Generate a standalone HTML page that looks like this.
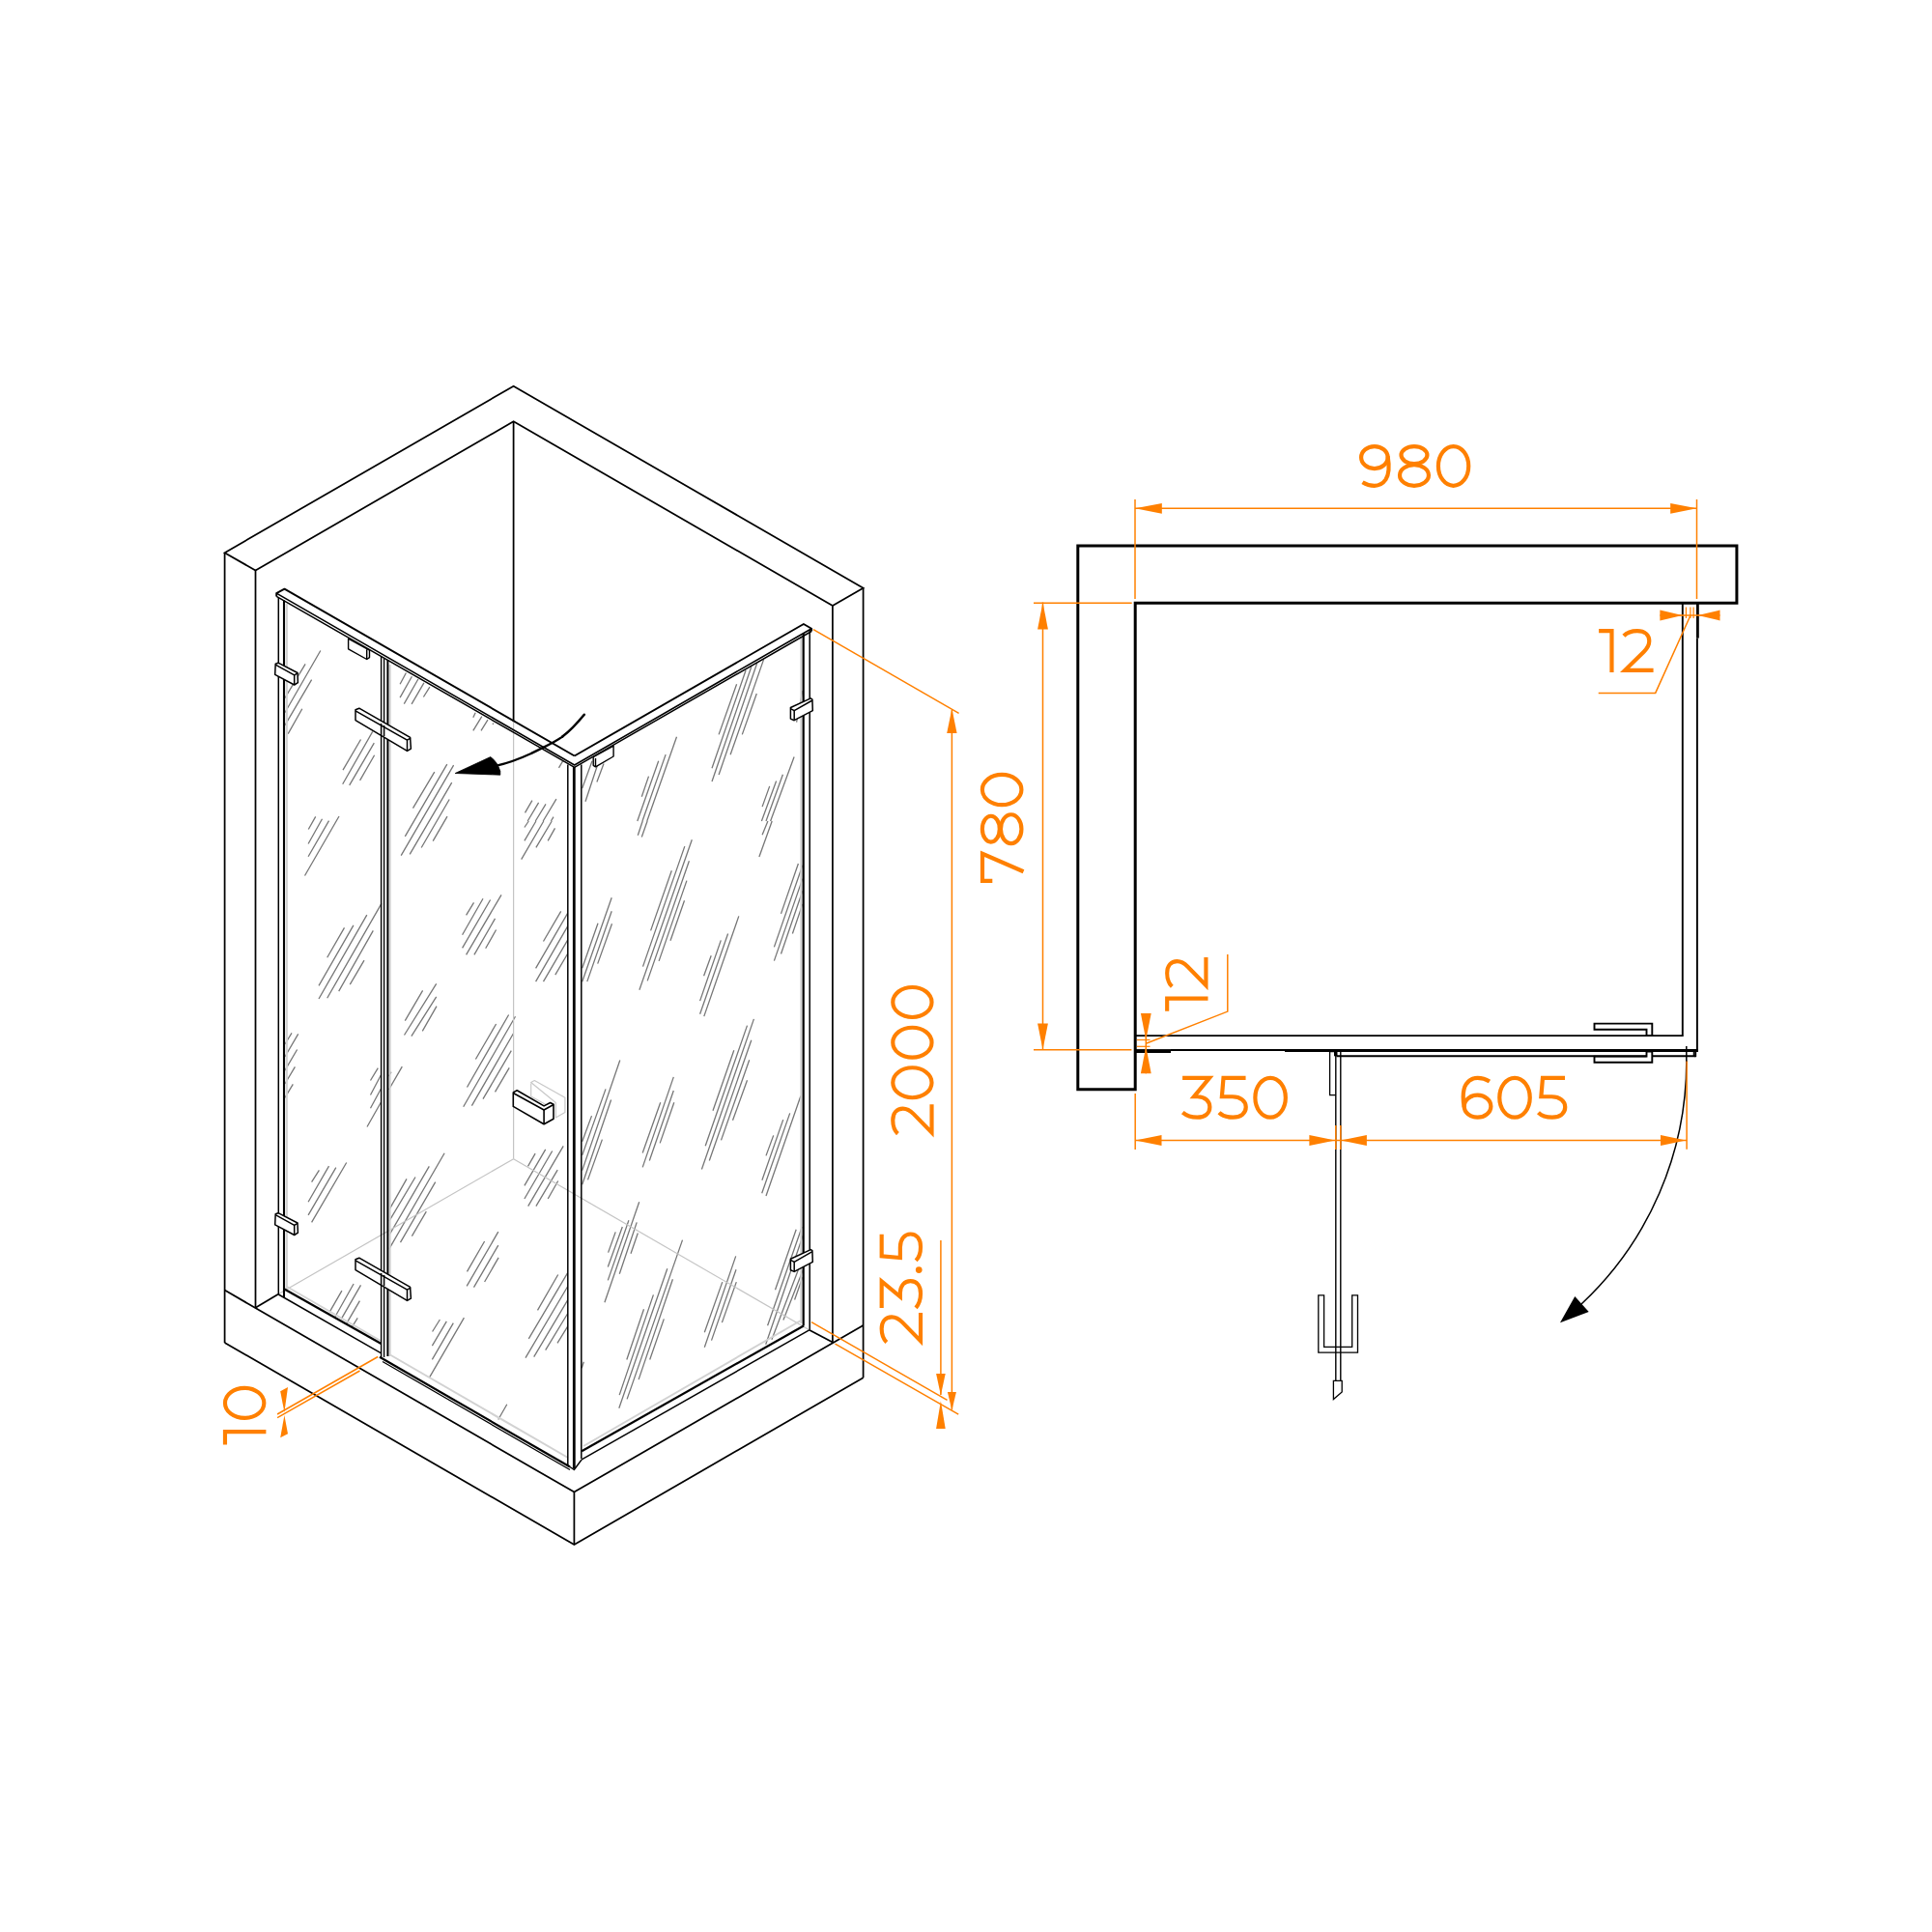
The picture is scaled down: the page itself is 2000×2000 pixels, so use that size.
<!DOCTYPE html>
<html><head><meta charset="utf-8"><style>html,body{margin:0;padding:0;background:#fff;width:2000px;height:2000px;overflow:hidden}svg{display:block}</style></head>
<body><svg xmlns="http://www.w3.org/2000/svg" width="2000" height="2000" viewBox="0 0 2000 2000">
<rect width="2000" height="2000" fill="#fff"/>
<path d="M316.1,687.3L294.9,722.6 M331.8,673.5L294.9,737.8 M322.6,703.6L294.9,750.9 M312.8,733.7L298.2,759.6 M373.5,765.5L355.0,797.1 M385.7,757.4L354.7,811.7 M387.3,769.1L361.7,812.8 M387.6,781.8L372.6,807.9 M420.4,696.5L414.1,708.3 M426.4,700.3L414.1,722.1 M432.9,703.0L418.3,728.6 M438.9,706.8L426.1,728.9 M444.9,711.2L438.4,721.5 M449.8,799.2L427.5,836.7 M462.8,791.1L419.3,865.9 M469.6,792.2L415.2,885.7 M467.7,810.1L424.2,884.3 M465.2,827.5L436.2,877.5 M326.7,845.4L319.3,858.5 M333.5,847.8L319.1,873.5 M340.5,849.6L319.1,886.7 M351.0,845.0L315.5,906.5 M356.5,960.4L338.7,991.3 M365.9,957.9L330.0,1020.4 M379.8,947.1L330.0,1034.0 M394.9,935.4L338.7,1033.3 M386.3,963.4L350.7,1026.1 M377.0,994.1L362.3,1019.1 M463.0,845.2L448.2,870.7 M490.5,934.3L482.6,947.4 M500.0,930.2L478.6,967.7 M478.6,981.3L507.6,931.5 M482.6,988.4L519.0,926.3 M490.9,988.4L512.5,950.9 M437.6,1025.3L419.3,1056.7 M451.7,1018.3L418.5,1071.5 M451.7,1031.8L425.9,1072.6 M452.0,1041.6L437.3,1067.4 M302.0,1069.3L294.9,1081.0 M308.7,1070.4L294.9,1094.0 M307.6,1086.5L294.9,1108.2 M305.4,1104.3L294.9,1122.0 M303.3,1122.3L294.9,1136.4 M391.3,1105.7L383.5,1118.5 M394.3,1113.0L383.5,1133.5 M394.3,1127.2L383.5,1147.3 M394.3,1141.3L380.0,1166.5 M405.0,1109.6L402.5,1114.1 M416.3,1104.1L402.5,1128.0 M492.4,1096.5L513.6,1060.0 M483.5,1125.5L526.6,1050.5 M479.7,1145.7L533.5,1052.2 M488.4,1144.6L531.5,1069.8 M330.4,1211.4L322.6,1223.7 M340.5,1207.1L319.1,1244.3 M347.8,1208.7L319.1,1257.8 M358.7,1203.5L322.6,1265.4 M421.0,1220.4L403.6,1251.1 M430.0,1218.5L403.0,1263.8 M444.3,1207.4L403.0,1278.5 M460.1,1193.7L403.0,1292.6 M450.7,1223.7L414.5,1286.1 M441.3,1254.1L426.4,1279.6 M353.9,1336.1L341.1,1358.4 M366.1,1329.0L347.1,1362.7 M373.5,1330.4L353.3,1365.4 M372.4,1346.7L359.0,1369.6 M370.2,1364.3L364.8,1373.0 M455.4,1366.0L447.6,1378.5 M462.3,1367.8L447.4,1393.2 M469.3,1369.6L447.4,1407.3 M480.4,1364.1L444.3,1426.3 M582.6,787.8L578.5,794.9 M550.9,828.6L543.5,841.3 M557.6,830.8L546.2,850.0 M565.0,832.4L554.3,850.0 M575.9,827.2L562.2,850.0 M573.0,845.7L570.4,850.0 M613.0,787.8L602.7,816.1 M619.0,790.5L606.0,829.7 M625.0,790.5L617.9,809.6 M671.5,803.6L664.3,824.8 M681.7,787.8L659.8,850.0 M689.1,781.1L665.0,850.0 M700.5,762.8L669.8,850.0 M547.3,850.0L542.9,856.5 M554.9,850.0L542.9,870.4 M562.8,850.0L539.7,889.7 M571.2,850.0L554.9,877.4 M574.5,857.4L567.2,870.4 M513.6,962.5L502.7,981.7 M580.7,943.3L562.5,974.5 M587.5,945.7L554.6,1002.4 M587.5,959.2L554.6,1016.1 M587.5,973.4L562.5,1016.1 M587.5,987.5L574.8,1009.2 M665.2,850.0L660.3,864.7 M670.1,850.0L664.3,866.5 M633.2,929.3L602.7,1016.3 M633.2,943.3L607.8,1016.1 M633.5,956.3L618.7,997.6 M619.0,955.7L602.7,1002.2 M500.0,850.0L500.0,850.0 M529.3,1087.7L500.0,1137.7 M527.2,1105.4L512.5,1130.4 M554.1,1194.2L546.5,1207.3 M564.7,1189.9L542.9,1227.4 M571.7,1191.5L542.9,1241.0 M583.2,1186.3L546.7,1248.6 M577.2,1211.1L554.9,1248.6 M577.7,1222.5L567.2,1241.0 M641.8,1097.5L602.7,1211.6 M627.0,1127.4L602.7,1195.9 M612.5,1155.1L602.7,1181.7 M632.6,1138.5L602.7,1226.3 M623.4,1179.6L608.5,1221.4 M697.3,1114.9L665.2,1208.4 M683.7,1141.3L665.2,1193.5 M697.3,1129.0L672.3,1201.5 M697.8,1141.3L683.2,1183.4 M661.7,1244.2L625.9,1348.3 M650.9,1263.3L629.3,1325.4 M659.2,1265.4L641.3,1318.7 M577.7,1319.5L556.5,1356.4 M587.5,1317.8L547.3,1385.8 M587.5,1332.0L544.0,1405.7 M587.5,1346.1L552.7,1404.6 M587.5,1360.0L564.7,1397.7 M587.5,1373.3L577.0,1390.4 M524.8,1453.7L515.8,1469.5 M604.3,1409.7L602.2,1416.2 M637.2,1275.4L629.6,1296.6 M644.3,1270.0L629.3,1311.5 M660.3,1276.5L653.0,1297.7 M500.0,1270.0L500.0,1270.0 M762.6,708.3L744.1,760.4 M772.1,693.8L737.0,795.2 M777.8,690.2L737.0,809.0 M783.7,686.5L744.1,802.0 M790.5,682.9L756.1,781.3 M783.3,718.0L768.3,760.4 M822.1,783.5L797.6,850.0 M810.4,801.7L793.0,850.0 M803.6,808.5L788.4,850.0 M796.7,813.9L789.1,835.1 M830.8,715.0L824.6,747.6 M794.9,850.0L789.1,864.3 M799.2,850.0L785.9,887.0 M764.8,948.4L728.8,1052.1 M753.6,966.5L724.6,1049.8 M746.3,973.4L724.6,1036.1 M736.2,989.3L728.6,1010.3 M826.4,894.0L808.5,945.9 M830.8,895.7L801.4,980.4 M830.8,909.6L801.4,994.6 M830.8,922.3L808.5,987.5 M830.8,935.9L820.4,966.5 M780.4,1054.9L726.4,1210.5 M773.5,1061.6L730.2,1186.3 M777.8,1076.8L734.3,1201.5 M775.7,1097.2L746.5,1180.4 M773.5,1118.2L758.5,1159.8 M759.8,1087.2L738.0,1149.7 M828.9,1134.5L793.0,1238.0 M817.7,1152.4L788.7,1235.2 M810.7,1159.1L788.9,1221.7 M800.7,1175.4L793.0,1196.4 M761.7,1300.4L729.3,1394.8 M762.0,1314.3L736.5,1387.6 M762.3,1327.1L747.4,1369.1 M747.8,1327.1L729.3,1379.2 M824.2,1272.7L802.5,1335.2 M830.2,1270.0L794.6,1372.2 M831.3,1278.7L792.7,1391.7 M831.3,1301.5L798.9,1386.8 M831.3,1314.6L810.9,1366.5 M830.8,1322.2L822.6,1345.5 M501.6,1285.0L483.5,1316.3 M515.8,1275.2L483.2,1331.4 M515.8,1289.2L490.5,1332.6 M516.1,1301.9L501.6,1327.0 M706.5,1283.6L649.1,1448.4 M690.8,1313.3L640.8,1457.8 M676.4,1340.4L641.2,1444.1 M696.4,1324.3L661.1,1428.1 M666.5,1355.3L648.8,1407.5 M687.3,1365.4L672.7,1407.5 M492.2,737.8L489.8,742.8 M498.8,741.6L489.8,756.4 M505.0,745.1L498.0,756.4 M510.8,748.6L510.0,749.8 M695.3,901.2L673.6,963.4 M708.8,876.1L665.5,1000.6 M716.3,869.2L661.9,1024.7 M713.4,891.2L670.2,1015.4 M710.9,911.6L682.1,994.9 M708.5,932.3L694.0,973.7" stroke="#777" stroke-width="1.3" fill="none" stroke-linecap="butt"/>
<line x1="531.6" y1="747.0" x2="531.6" y2="1199.7" stroke="#c4c4c4" stroke-width="1.2" />
<line x1="531.6" y1="1199.7" x2="288.0" y2="1339.8" stroke="#c4c4c4" stroke-width="1.2" />
<line x1="531.6" y1="1199.7" x2="837.7" y2="1376.8" stroke="#c4c4c4" stroke-width="1.2" />
<path d="M232.6,572.2 L531.6,399.7 L893.6,608.7 L861.9,627.0 L531.6,436.3 L264.5,590.5 Z" fill="none" stroke="#000" stroke-width="1.75" stroke-linejoin="miter" />
<line x1="232.6" y1="572.2" x2="232.6" y2="1390.0" stroke="#000" stroke-width="1.75" />
<line x1="264.5" y1="590.5" x2="264.5" y2="1353.8" stroke="#000" stroke-width="1.75" />
<line x1="893.6" y1="608.7" x2="893.6" y2="1426.3" stroke="#000" stroke-width="1.75" />
<line x1="861.9" y1="627.0" x2="861.9" y2="1389.6" stroke="#000" stroke-width="1.75" />
<line x1="531.6" y1="436.3" x2="531.6" y2="747.0" stroke="#000" stroke-width="1.75" />
<path d="M232.6,1390.0 L594.4,1599.0 L893.6,1426.3" fill="none" stroke="#000" stroke-width="1.75" stroke-linejoin="miter" />
<path d="M232.6,1335.6 L594.4,1544.6 L893.6,1372.0" fill="none" stroke="#000" stroke-width="1.75" stroke-linejoin="miter" />
<line x1="594.4" y1="1544.6" x2="594.4" y2="1599.0" stroke="#000" stroke-width="1.75" />
<line x1="264.5" y1="1353.8" x2="288.0" y2="1339.8" stroke="#000" stroke-width="1.75" />
<line x1="861.9" y1="1389.6" x2="837.7" y2="1376.8" stroke="#000" stroke-width="1.75" />
<line x1="296.8" y1="625.0" x2="296.8" y2="1334.0" stroke="#d2d2d2" stroke-width="2.2"/>
<line x1="403.6" y1="688.0" x2="403.6" y2="1404.0" stroke="#d2d2d2" stroke-width="2.2"/>
<line x1="829.4" y1="660.0" x2="829.4" y2="1370.0" stroke="#d2d2d2" stroke-width="2.2"/>
<line x1="297.0" y1="1332.0" x2="394.0" y2="1388.0" stroke="#d2d2d2" stroke-width="2.0"/>
<line x1="403.0" y1="1402.0" x2="588.0" y2="1509.0" stroke="#d2d2d2" stroke-width="2.0"/>
<line x1="604.0" y1="1497.0" x2="829.0" y2="1367.0" stroke="#d2d2d2" stroke-width="2.0"/>
<line x1="288.3" y1="618.6" x2="288.3" y2="1340.0" stroke="#000" stroke-width="1.5"/>
<line x1="294.0" y1="621.5" x2="294.0" y2="1343.1" stroke="#000" stroke-width="2.1"/>
<line x1="394.6" y1="680.0" x2="394.6" y2="1405.0" stroke="#000" stroke-width="1.4"/>
<line x1="397.6" y1="681.0" x2="397.6" y2="1405.0" stroke="#000" stroke-width="1.4"/>
<line x1="401.4" y1="683.0" x2="401.4" y2="1404.0" stroke="#000" stroke-width="2.0"/>
<line x1="587.8" y1="791.5" x2="587.8" y2="1517.0" stroke="#000" stroke-width="1.5"/>
<line x1="594.3" y1="794.0" x2="594.3" y2="1520.0" stroke="#000" stroke-width="2.8"/>
<line x1="601.8" y1="791.5" x2="601.8" y2="1510.0" stroke="#000" stroke-width="1.5"/>
<line x1="831.7" y1="656.0" x2="831.7" y2="1372.5" stroke="#000" stroke-width="2.2"/>
<line x1="838.2" y1="652.0" x2="838.2" y2="1376.8" stroke="#000" stroke-width="1.5"/>
<path d="M594.7,782.5 L294.5,609.6 L286.2,614.1 L286.2,617.4" fill="none" stroke="#000" stroke-width="1.9" stroke-linejoin="round"/>
<path d="M594.7,782.5 L831.9,646.0 L840.1,650.7 L840.1,653.5" fill="none" stroke="#000" stroke-width="1.9" stroke-linejoin="round"/>
<path d="M286.2,614.1 L594.7,792.0 L840.1,650.7" fill="none" stroke="#000" stroke-width="1.6" stroke-linejoin="round"/>
<path d="M286.2,617.4 L594.7,794.3 L840.1,653.5" fill="none" stroke="#000" stroke-width="1.5" stroke-linejoin="round"/>
<line x1="294.0" y1="1334.3" x2="394.6" y2="1391.0" stroke="#000" stroke-width="2.2"/>
<line x1="288.3" y1="1340.0" x2="394.6" y2="1400.8" stroke="#000" stroke-width="1.5"/>
<line x1="393.0" y1="1404.8" x2="590.0" y2="1518.5" stroke="#000" stroke-width="2.2"/>
<line x1="396.0" y1="1409.5" x2="590.0" y2="1521.5" stroke="#000" stroke-width="1.3"/>
<line x1="602.2" y1="1502.2" x2="831.9" y2="1372.5" stroke="#000" stroke-width="2.2"/>
<line x1="602.2" y1="1510.9" x2="837.7" y2="1376.8" stroke="#000" stroke-width="1.5"/>
<path d="M590.0,1518.5 L594.3,1521.5 L602.2,1510.9" fill="none" stroke="#000" stroke-width="1.5" stroke-linejoin="round"/>
<path d="M285.2,687.2 L288.0,686.2 L308.0,696.5 L308.4,706.7 L304.7,709.0 L284.7,698.3 Z" fill="#fff" stroke="#000" stroke-width="1.5" stroke-linejoin="round"/>
<path d="M285.2,688.2 L304.7,698.8 L308.0,696.8" fill="none" stroke="#000" stroke-width="1.5" stroke-linejoin="round"/>
<path d="M304.7,698.8 L304.7,709.0" fill="none" stroke="#000" stroke-width="1.5" stroke-linejoin="round"/>
<path d="M285.2,1256.7 L288.0,1255.7 L308.0,1266.0 L308.4,1276.2 L304.7,1278.5 L284.7,1267.8 Z" fill="#fff" stroke="#000" stroke-width="1.5" stroke-linejoin="round"/>
<path d="M285.2,1257.7 L304.7,1268.3 L308.0,1266.3" fill="none" stroke="#000" stroke-width="1.5" stroke-linejoin="round"/>
<path d="M304.7,1268.3 L304.7,1278.5" fill="none" stroke="#000" stroke-width="1.5" stroke-linejoin="round"/>
<path d="M368.0,734.7 L371.8,733.2 L424.6,763.4 L425.4,775.1 L421.5,777.4 L368.0,745.6 Z" fill="#fff" stroke="#000" stroke-width="1.5" stroke-linejoin="round"/>
<path d="M368.0,735.8 L421.5,766.2 L425.0,764.2" fill="none" stroke="#000" stroke-width="1.5" stroke-linejoin="round"/>
<path d="M421.5,766.2 L421.5,777.4" fill="none" stroke="#000" stroke-width="1.5" stroke-linejoin="round"/>
<path d="M394.6,749.0 L394.6,761.0" fill="none" stroke="#000" stroke-width="1.5" stroke-linejoin="round"/>
<path d="M397.6,751.0 L397.6,762.0" fill="none" stroke="#000" stroke-width="1.5" stroke-linejoin="round"/>
<path d="M368.0,1303.7 L371.8,1302.2 L424.6,1332.4 L425.4,1344.1 L421.5,1346.4 L368.0,1314.6 Z" fill="#fff" stroke="#000" stroke-width="1.5" stroke-linejoin="round"/>
<path d="M368.0,1304.8 L421.5,1335.2 L425.0,1333.2" fill="none" stroke="#000" stroke-width="1.5" stroke-linejoin="round"/>
<path d="M421.5,1335.2 L421.5,1346.4" fill="none" stroke="#000" stroke-width="1.5" stroke-linejoin="round"/>
<path d="M394.6,1318.0 L394.6,1330.0" fill="none" stroke="#000" stroke-width="1.5" stroke-linejoin="round"/>
<path d="M397.6,1320.0 L397.6,1331.0" fill="none" stroke="#000" stroke-width="1.5" stroke-linejoin="round"/>
<path d="M818.4,732.5 L839.3,722.9 L840.9,724.0 L841.3,735.6 L822.2,745.7 L818.4,744.1 Z" fill="#fff" stroke="#000" stroke-width="1.5" stroke-linejoin="round"/>
<path d="M818.4,733.6 L822.2,735.6 L840.9,725.0" fill="none" stroke="#000" stroke-width="1.5" stroke-linejoin="round"/>
<path d="M822.2,735.6 L822.2,745.7" fill="none" stroke="#000" stroke-width="1.5" stroke-linejoin="round"/>
<path d="M818.4,1303.2 L839.3,1293.6 L840.9,1294.7 L841.3,1306.3 L822.2,1316.4 L818.4,1314.8 Z" fill="#fff" stroke="#000" stroke-width="1.5" stroke-linejoin="round"/>
<path d="M818.4,1304.3 L822.2,1306.3 L840.9,1295.7" fill="none" stroke="#000" stroke-width="1.5" stroke-linejoin="round"/>
<path d="M822.2,1306.3 L822.2,1316.4" fill="none" stroke="#000" stroke-width="1.5" stroke-linejoin="round"/>
<path d="M360.6,661.1 L382.5,673.2 L382.5,680.6 L379.7,682.5 L360.6,671.8 Z" fill="#fff" stroke="#000" stroke-width="1.4" stroke-linejoin="round"/>
<path d="M379.7,672.2 L379.7,682.5" fill="none" stroke="#000" stroke-width="1.4" stroke-linejoin="round"/>
<path d="M614.2,783.7 L635.1,772.1 L635.1,783.0 L616.5,793.8 L614.2,792.3 Z" fill="#fff" stroke="#000" stroke-width="1.4" stroke-linejoin="round"/>
<path d="M616.5,785.0 L616.5,793.8" fill="none" stroke="#000" stroke-width="1.4" stroke-linejoin="round"/>
<path d="M549.7,1120.5 L553.3,1118.5 L584.9,1136.3 L584.9,1151.6 L575.3,1157.0 L575.3,1141.5 Z" fill="none" stroke="#c8c8c8" stroke-width="1.2" stroke-linejoin="round"/>
<path d="M549.7,1121.5 L549.7,1135.0 L566.0,1144.0" fill="none" stroke="#c8c8c8" stroke-width="1.2" stroke-linejoin="round"/>
<path d="M531.3,1130.9 L535.2,1128.8 L563.1,1144.9 L569.6,1141.5 L573.0,1143.3 L573.0,1158.3 L563.1,1163.8 L531.3,1145.4 Z" fill="#fff" stroke="#000" stroke-width="1.6" stroke-linejoin="round"/>
<path d="M531.3,1131.5 L563.1,1149.0 L573.0,1143.5" fill="none" stroke="#000" stroke-width="1.6" stroke-linejoin="round"/>
<path d="M563.1,1149.0 L563.1,1163.8" fill="none" stroke="#000" stroke-width="1.6" stroke-linejoin="round"/>
<path d="M604.8,739.7 C598,748 590,756.5 582.2,762.6" fill="none" stroke="#000" stroke-width="2.5" stroke-linecap="round"/>
<path d="M582.2,762.6 C572,770 562,773.5 550.4,779.7" fill="none" stroke="#000" stroke-width="2.3" stroke-linecap="round"/>
<path d="M550.4,779.7 C540,784.5 528,789.5 514,792.6" fill="none" stroke="#000" stroke-width="2.1" stroke-linecap="round"/>
<path d="M471.2,800.5 L507.7,783.6 Q514.5,788 517.8,798.3 L517.8,802.2 Z" fill="#000" stroke="#000" stroke-width="0.8" stroke-linejoin="round"/>
<line x1="842.0" y1="651.7" x2="992.6" y2="738.3" stroke="#ff8000" stroke-width="1.5" />
<line x1="985.4" y1="735.0" x2="985.4" y2="1459.5" stroke="#ff8000" stroke-width="1.5" />
<path d="M985.4,733.6 L990.6,759.0 L980.2,759.0 Z" fill="#ff8000" stroke="none"/>
<path d="M985.4,1460.0 L980.9,1441.0 L989.9,1441.0 Z" fill="#ff8000" stroke="none"/>
<line x1="840.0" y1="1368.7" x2="980.5" y2="1449.4" stroke="#ff8000" stroke-width="1.5" />
<line x1="864.5" y1="1391.2" x2="992.2" y2="1464.2" stroke="#ff8000" stroke-width="1.5" />
<line x1="973.9" y1="1284.0" x2="973.9" y2="1444.0" stroke="#ff8000" stroke-width="1.5" />
<path d="M973.9,1444.5 L969.1,1422.0 L978.7,1422.0 Z" fill="#ff8000" stroke="none"/>
<path d="M973.9,1450.2 L978.7,1479.0 L969.1,1479.0 Z" fill="#ff8000" stroke="none"/>
<line x1="391.2" y1="1404.5" x2="287.1" y2="1464.0" stroke="#ff8000" stroke-width="1.5" />
<line x1="372.5" y1="1419.0" x2="287.1" y2="1467.6" stroke="#ff8000" stroke-width="1.5" />
<path d="M290.2,1440.2 L298.0,1436.1 L294.4,1462.0 Z" fill="#ff8000" stroke="none"/>
<path d="M294.4,1465.0 L298.0,1484.2 L290.2,1488.3 Z" fill="#ff8000" stroke="none"/>
<path d="M1115.8,1127.8 L1115.8,565.0 L1797.9,565.0 L1797.9,624.2 L1175.2,624.2 L1175.2,1127.8 Z" fill="none" stroke="#000" stroke-width="3.0" stroke-linejoin="miter" />
<line x1="1175.2" y1="1072.1" x2="1741.8" y2="1072.1" stroke="#000" stroke-width="1.9" />
<line x1="1741.8" y1="624.2" x2="1741.8" y2="1073.0" stroke="#000" stroke-width="1.9" />
<line x1="1757.4" y1="624.2" x2="1757.4" y2="660.6" stroke="#000" stroke-width="2.8" />
<line x1="1756.9" y1="660.6" x2="1756.9" y2="1088.5" stroke="#000" stroke-width="1.9" />
<rect x="1175" y="1086.1" width="37" height="3.9" fill="#000"/>
<line x1="1212.0" y1="1087.0" x2="1330.0" y2="1087.0" stroke="#000" stroke-width="1.8" />
<line x1="1330.0" y1="1087.5" x2="1757.9" y2="1087.5" stroke="#000" stroke-width="2.8" />
<line x1="1383.5" y1="1093.3" x2="1704.5" y2="1093.3" stroke="#000" stroke-width="2.0" />
<line x1="1710.3" y1="1093.3" x2="1755.2" y2="1093.3" stroke="#000" stroke-width="1.9" />
<line x1="1753.5" y1="1087.5" x2="1753.5" y2="1093.3" stroke="#000" stroke-width="1.5" />
<line x1="1755.2" y1="1087.5" x2="1755.2" y2="1094.2" stroke="#000" stroke-width="1.9" />
<line x1="1745.8" y1="1083.1" x2="1745.8" y2="1098.7" stroke="#000" stroke-width="1.5" />
<line x1="1382.8" y1="1088.7" x2="1382.8" y2="1429.4" stroke="#000" stroke-width="1.4" />
<line x1="1387.8" y1="1088.7" x2="1387.8" y2="1429.4" stroke="#000" stroke-width="1.4" />
<path d="M1382.8,1088.7 L1376.6,1088.7 L1376.6,1133.7 L1382.8,1133.7" fill="none" stroke="#000" stroke-width="1.3" stroke-linejoin="miter" />
<rect x="1381" y="1088.7" width="3.5" height="4.6" fill="#000"/>
<path d="M1364.8,1340.8 L1364.8,1400.2 L1405.5,1400.2 L1405.5,1340.8 L1399.7,1340.8 L1399.7,1394.4 L1370.6,1394.4 L1370.6,1340.8 Z" fill="none" stroke="#000" stroke-width="1.3" stroke-linejoin="miter" />
<path d="M1380.4,1429.4 L1389.2,1429.4 L1389.2,1441.0 L1380.4,1448.5 Z" fill="none" stroke="#000" stroke-width="1.3" stroke-linejoin="miter" />
<path d="M1650.5,1059.6 L1710.3,1059.6 L1710.3,1072.1 L1704.5,1072.1 L1704.5,1065.7 L1650.5,1065.7 Z" fill="none" stroke="#000" stroke-width="1.9" stroke-linejoin="miter" />
<path d="M1650.5,1099.8 L1710.3,1099.8 L1710.3,1088.5 L1704.5,1088.5 L1704.5,1093.6 L1650.5,1093.6 Z" fill="none" stroke="#000" stroke-width="1.9" stroke-linejoin="miter" />
<path d="M1745.8,1097.8 A343,343 0 0 1 1637,1350" fill="none" stroke="#000" stroke-width="1.5"/>
<path d="M1615.0,1369.3 L1630.3,1342.0 L1644.7,1357.9 Z" fill="#000" stroke="none"/>
<line x1="1175.0" y1="526.3" x2="1756.5" y2="526.3" stroke="#ff8000" stroke-width="1.5" />
<line x1="1175.0" y1="517.0" x2="1175.0" y2="620.0" stroke="#ff8000" stroke-width="1.5" />
<line x1="1756.5" y1="517.0" x2="1756.5" y2="620.0" stroke="#ff8000" stroke-width="1.5" />
<path d="M1175.0,526.3 L1202.8,520.9 L1202.8,531.7 Z" fill="#ff8000" stroke="none"/>
<path d="M1756.5,526.3 L1729.2,531.7 L1729.2,520.9 Z" fill="#ff8000" stroke="none"/>
<line x1="1079.5" y1="623.6" x2="1079.5" y2="1086.4" stroke="#ff8000" stroke-width="1.5" />
<line x1="1070.0" y1="624.2" x2="1171.7" y2="624.2" stroke="#ff8000" stroke-width="1.5" />
<line x1="1070.0" y1="1086.8" x2="1171.4" y2="1086.8" stroke="#ff8000" stroke-width="1.5" />
<path d="M1079.5,623.6 L1084.9,651.5 L1074.1,651.5 Z" fill="#ff8000" stroke="none"/>
<path d="M1079.5,1086.4 L1074.1,1059.5 L1084.9,1059.5 Z" fill="#ff8000" stroke="none"/>
<line x1="1718.4" y1="637.0" x2="1780.5" y2="637.0" stroke="#ff8000" stroke-width="1.5" />
<path d="M1741.6,637.0 L1718.4,642.4 L1718.4,631.6 Z" fill="#ff8000" stroke="none"/>
<path d="M1757.6,637.0 L1780.5,631.6 L1780.5,642.4 Z" fill="#ff8000" stroke="none"/>
<path d="M1750.0,637.0 L1713.7,717.4 L1654.7,717.4" fill="none" stroke="#ff8000" stroke-width="1.5" stroke-linejoin="miter" />
<line x1="1745.4" y1="628.5" x2="1745.4" y2="640.0" stroke="#ff8000" stroke-width="1.2" />
<line x1="1749.9" y1="628.5" x2="1749.9" y2="640.0" stroke="#ff8000" stroke-width="1.2" />
<line x1="1753.1" y1="628.5" x2="1753.1" y2="640.0" stroke="#ff8000" stroke-width="1.2" />
<line x1="1186.3" y1="1049.0" x2="1186.3" y2="1111.3" stroke="#ff8000" stroke-width="1.5" />
<path d="M1186.3,1076.5 L1180.9,1049.0 L1191.7,1049.0 Z" fill="#ff8000" stroke="none"/>
<path d="M1186.3,1083.3 L1191.7,1111.3 L1180.9,1111.3 Z" fill="#ff8000" stroke="none"/>
<line x1="1177.0" y1="1076.5" x2="1190.5" y2="1076.5" stroke="#ff8000" stroke-width="1.2" />
<line x1="1177.0" y1="1083.3" x2="1190.5" y2="1083.3" stroke="#ff8000" stroke-width="1.2" />
<path d="M1186.3,1080.2 L1270.8,1047.1 L1270.8,988.0" fill="none" stroke="#ff8000" stroke-width="1.5" stroke-linejoin="miter" />
<line x1="1175.2" y1="1132.0" x2="1175.2" y2="1190.0" stroke="#ff8000" stroke-width="1.5" />
<line x1="1175.2" y1="1180.5" x2="1746.1" y2="1180.5" stroke="#ff8000" stroke-width="1.5" />
<line x1="1746.1" y1="1098.6" x2="1746.1" y2="1189.8" stroke="#ff8000" stroke-width="1.5" />
<path d="M1175.2,1180.5 L1202.5,1175.1 L1202.5,1185.9 Z" fill="#ff8000" stroke="none"/>
<path d="M1382.3,1180.5 L1355.4,1185.9 L1355.4,1175.1 Z" fill="#ff8000" stroke="none"/>
<path d="M1388.0,1180.5 L1414.9,1175.1 L1414.9,1185.9 Z" fill="#ff8000" stroke="none"/>
<path d="M1745.3,1180.5 L1719.0,1185.9 L1719.0,1175.1 Z" fill="#ff8000" stroke="none"/>
<line x1="1382.8" y1="1165.0" x2="1382.8" y2="1190.0" stroke="#ff8000" stroke-width="1.5" />
<line x1="1387.8" y1="1165.0" x2="1387.8" y2="1190.0" stroke="#ff8000" stroke-width="1.5" />
<g aria-label="980" role="img" transform="translate(1407,460) scale(0.9978)" fill="none" stroke="#ff8000" stroke-width="4.2" stroke-linecap="butt" stroke-linejoin="miter" stroke-miterlimit="4"><g transform="translate(0,0)"><ellipse cx="15.9" cy="13.6" rx="13.8" ry="11.5"/><path d="M29.7,12.5 C31.3,22 31.2,31 27.6,36.5 C24.5,41 20.5,42.9 15.8,42.9 C11.2,42.9 7.2,41.6 3.5,39.3"/></g><g transform="translate(40,0)"><ellipse cx="17.1" cy="11.1" rx="13.5" ry="9.0"/><ellipse cx="17.1" cy="32.1" rx="15.0" ry="10.8"/></g><g transform="translate(80,0)"><ellipse cx="17.8" cy="22.5" rx="15.7" ry="20.4"/></g></g>
<g aria-label="350" role="img" transform="translate(1222.4,1113.7) scale(1.0022)" fill="none" stroke="#ff8000" stroke-width="4.2" stroke-linecap="butt" stroke-linejoin="miter" stroke-miterlimit="4"><g transform="translate(0,0)"><path d="M1.7,2.1 L29.6,2.1 L13.6,21.5 L17.3,21.5 C25,21.5 29.9,26 29.9,32.3 C29.9,38.8 24.9,42.9 17,42.9 C11,42.9 5.6,41 1.9,37.9"/></g><g transform="translate(37.7,0)"><path d="M29.3,2.1 L6.3,2.1 L4.7,21.5 L15.6,21.5 C24,21.5 29.5,26 29.5,32.3 C29.5,38.8 24.2,42.9 16.2,42.9 C10,42.9 4.8,41 1.8,38"/></g><g transform="translate(74.7,0)"><ellipse cx="17.8" cy="22.5" rx="15.7" ry="20.4"/></g></g>
<g aria-label="605" role="img" transform="translate(1512.1,1113.7) scale(1.0022)" fill="none" stroke="#ff8000" stroke-width="4.2" stroke-linecap="butt" stroke-linejoin="miter" stroke-miterlimit="4"><g transform="translate(0,0)"><ellipse cx="17.4" cy="31.4" rx="13.8" ry="11.5"/><path d="M3.6,32.5 C2,23 2.1,14 5.7,8.5 C8.8,4 12.8,2.1 17.5,2.1 C22.1,2.1 26.1,3.4 29.8,5.7"/></g><g transform="translate(38,0)"><ellipse cx="17.8" cy="22.5" rx="15.7" ry="20.4"/></g><g transform="translate(78.4,0)"><path d="M29.3,2.1 L6.3,2.1 L4.7,21.5 L15.6,21.5 C24,21.5 29.5,26 29.5,32.3 C29.5,38.8 24.2,42.9 16.2,42.9 C10,42.9 4.8,41 1.8,38"/></g></g>
<g aria-label="12" role="img" transform="translate(1655.1,651) scale(0.9978)" fill="none" stroke="#ff8000" stroke-width="4.2" stroke-linecap="butt" stroke-linejoin="miter" stroke-miterlimit="4"><g transform="translate(0,0)"><path d="M0,2.1 L13.4,2.1 L13.4,45"/></g><g transform="translate(24.1,0)"><path d="M1.8,7.3 C5.2,3.6 10.2,2.1 15.8,2.1 C23.6,2.1 28.2,6.3 28.2,12.6 C28.2,17 26.2,20.3 22.6,23.8 L3,42.9 L32.5,42.9"/></g></g>
<g aria-label="780" role="img" transform="translate(1014.8,914) rotate(-90) scale(0.9933)" fill="none" stroke="#ff8000" stroke-width="4.2" stroke-linecap="butt" stroke-linejoin="miter" stroke-miterlimit="4"><g transform="translate(0,0)"><path d="M2.1,12.6 L2.1,2.2 L30.4,2.2 L11.8,45"/></g><g transform="translate(39.1,0)"><ellipse cx="17.1" cy="11.1" rx="13.5" ry="9.0"/><ellipse cx="17.1" cy="32.1" rx="15.0" ry="10.8"/></g><g transform="translate(79.3,0)"><ellipse cx="17.8" cy="22.5" rx="15.7" ry="20.4"/></g></g>
<g aria-label="2000" role="img" transform="translate(922.2,1175.4) rotate(-90) scale(0.9867)" fill="none" stroke="#ff8000" stroke-width="4.2" stroke-linecap="butt" stroke-linejoin="miter" stroke-miterlimit="4"><g transform="translate(0,0)"><path d="M1.8,7.3 C5.2,3.6 10.2,2.1 15.8,2.1 C23.6,2.1 28.2,6.3 28.2,12.6 C28.2,17 26.2,20.3 22.6,23.8 L3,42.9 L32.5,42.9"/></g><g transform="translate(37.6,0)"><ellipse cx="17.8" cy="22.5" rx="15.7" ry="20.4"/></g><g transform="translate(79.7,0)"><ellipse cx="17.8" cy="22.5" rx="15.7" ry="20.4"/></g><g transform="translate(122,0)"><ellipse cx="17.8" cy="22.5" rx="15.7" ry="20.4"/></g></g>
<g aria-label="23.5" role="img" transform="translate(910.6,1391.2) rotate(-90) scale(0.9889)" fill="none" stroke="#ff8000" stroke-width="4.2" stroke-linecap="butt" stroke-linejoin="miter" stroke-miterlimit="4"><g transform="translate(0,0)"><path d="M1.8,7.3 C5.2,3.6 10.2,2.1 15.8,2.1 C23.6,2.1 28.2,6.3 28.2,12.6 C28.2,17 26.2,20.3 22.6,23.8 L3,42.9 L32.5,42.9"/></g><g transform="translate(35.9,0)"><path d="M1.7,2.1 L29.6,2.1 L13.6,21.5 L17.3,21.5 C25,21.5 29.9,26 29.9,32.3 C29.9,38.8 24.9,42.9 17,42.9 C11,42.9 5.6,41 1.9,37.9"/></g><g transform="translate(74,0)"><circle cx="3.5" cy="41.1" r="3.4" fill="#ff8000" stroke="none"/></g><g transform="translate(85.5,0)"><path d="M29.3,2.1 L6.3,2.1 L4.7,21.5 L15.6,21.5 C24,21.5 29.5,26 29.5,32.3 C29.5,38.8 24.2,42.9 16.2,42.9 C10,42.9 4.8,41 1.8,38"/></g></g>
<g aria-label="12" role="img" transform="translate(1206.1,1046.8) rotate(-90) scale(0.9867)" fill="none" stroke="#ff8000" stroke-width="4.2" stroke-linecap="butt" stroke-linejoin="miter" stroke-miterlimit="4"><g transform="translate(0,0)"><path d="M0,2.1 L13.4,2.1 L13.4,45"/></g><g transform="translate(24.1,0)"><path d="M1.8,7.3 C5.2,3.6 10.2,2.1 15.8,2.1 C23.6,2.1 28.2,6.3 28.2,12.6 C28.2,17 26.2,20.3 22.6,23.8 L3,42.9 L32.5,42.9"/></g></g>
<g aria-label="10" role="img" transform="translate(230.9,1495.4) rotate(-90) scale(0.9889)" fill="none" stroke="#ff8000" stroke-width="4.2" stroke-linecap="butt" stroke-linejoin="miter" stroke-miterlimit="4"><g transform="translate(0,0)"><path d="M0,2.1 L13.4,2.1 L13.4,45"/></g><g transform="translate(25.7,0)"><ellipse cx="17.8" cy="22.5" rx="15.7" ry="20.4"/></g></g>
</svg></body></html>
